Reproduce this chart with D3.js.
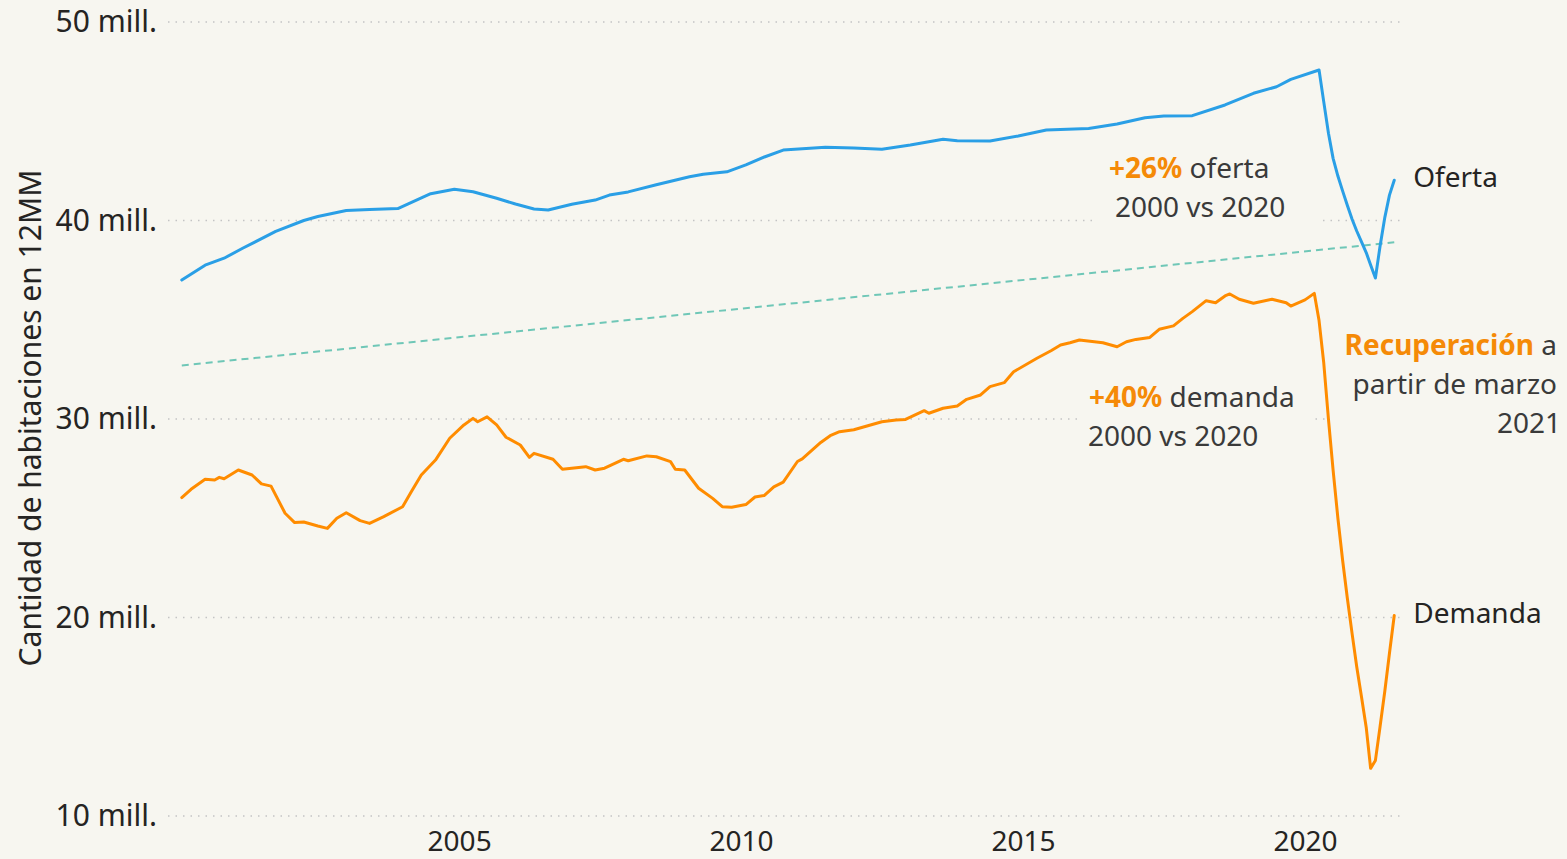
<!doctype html>
<html>

<head>
  <meta charset="utf8"/>
  <style>
    body {
      margin: 0;
      background: #f7f6f0;
    }

    svg {
      display: block;
      font-family: 'Segoe UI', 'Noto Sans', sans-serif;
    }

    .grid line {
      stroke: #c4c4c4;
      stroke-width: 1.5px;
      stroke-dasharray: 1.5, 6;
    }

    .axis text {
      fill: #252423;
    }

    .line {
      fill: none;
      stroke-width: 3px;
      stroke-linejoin: round;
      stroke-linecap: round;
    }

    .note {
      font-size: 28px;
      fill: #3a3a3a;
    }

    .note .hl {
      font-weight: bold;
      fill: #f58a07;
    }
  </style>
</head>

<body>
  <svg width='1567' height='859'></svg>
  <script src="https://d3js.org/d3.v7.min.js"></script>

  <script>

    // habitaciones en 12 meses moviles (millones)
    var ofertaMeses = [
      '2000-01', '2000-06', '2000-10', '2001-02', '2001-09', '2002-03',
      '2002-06', '2002-12', '2003-05', '2003-11', '2004-06', '2004-11',
      '2005-03', '2005-08', '2005-12', '2006-04', '2006-07', '2006-12',
      '2007-05', '2007-08', '2007-12', '2008-06', '2009-01', '2009-04',
      '2009-09', '2010-01', '2010-05', '2010-09', '2011-06', '2011-12',
      '2012-06', '2012-12', '2013-07', '2013-10', '2014-05', '2014-11',
      '2015-05', '2016-02', '2016-08', '2017-02', '2017-06', '2017-12',
      '2018-07', '2019-01', '2019-06', '2019-09', '2020-03', '2020-04',
      '2020-05', '2020-06', '2020-07', '2020-08', '2020-09', '2020-10',
      '2020-11', '2020-12', '2021-01', '2021-02', '2021-03', '2021-04',
      '2021-05', '2021-06', '2021-07'
    ];
    var ofertaValores = [
      37.0, 37.75, 38.1, 38.6, 39.45, 40.0,
      40.2, 40.5, 40.55, 40.6, 41.35, 41.57,
      41.45, 41.12, 40.83, 40.58, 40.53, 40.82,
      41.03, 41.28, 41.44, 41.8, 42.2, 42.33,
      42.45, 42.8, 43.2, 43.55, 43.69, 43.65,
      43.59, 43.8, 44.09, 44.02, 44.0, 44.26,
      44.56, 44.64, 44.86, 45.18, 45.26, 45.28,
      45.82, 46.41, 46.74, 47.11, 47.58, 46.0,
      44.4, 43.13, 42.24, 41.48, 40.77, 40.06,
      39.47, 38.92, 38.37, 37.76, 37.1, 38.7,
      40.16, 41.28, 42.03
    ];

    var demandaMeses = [
      '2000-01', '2000-03', '2000-06', '2000-08', '2000-09', '2000-10',
      '2001-01', '2001-04', '2001-06', '2001-08', '2001-11', '2002-01',
      '2002-03', '2002-06', '2002-08', '2002-10', '2002-12', '2003-03',
      '2003-05', '2003-08', '2003-12', '2004-02', '2004-04', '2004-07',
      '2004-10', '2005-01', '2005-03', '2005-04', '2005-06', '2005-08',
      '2005-10', '2006-01', '2006-03', '2006-04', '2006-08', '2006-10',
      '2007-03', '2007-05', '2007-07', '2007-11', '2007-12', '2008-04',
      '2008-06', '2008-09', '2008-10', '2008-12', '2009-03', '2009-06',
      '2009-08', '2009-10', '2010-01', '2010-03', '2010-05', '2010-07',
      '2010-09', '2010-12', '2011-01', '2011-05', '2011-07', '2011-09',
      '2011-12', '2012-03', '2012-06', '2012-09', '2012-11', '2013-03',
      '2013-04', '2013-07', '2013-10', '2013-12', '2014-03', '2014-05',
      '2014-08', '2014-10', '2015-03', '2015-06', '2015-08', '2015-10',
      '2015-12', '2016-05', '2016-08', '2016-10', '2016-12', '2017-03',
      '2017-05', '2017-08', '2017-10', '2017-12', '2018-03', '2018-05',
      '2018-07', '2018-08', '2018-10', '2019-01', '2019-05', '2019-08',
      '2019-09', '2019-12', '2020-02', '2020-03', '2020-04', '2020-05',
      '2020-06', '2020-07', '2020-08', '2020-09', '2020-10', '2020-11',
      '2020-12', '2021-01', '2021-02', '2021-03', '2021-04', '2021-05',
      '2021-06', '2021-07'
    ];
    var demandaValores = [
      26.04, 26.46, 26.96, 26.93, 27.06, 26.99,
      27.43, 27.18, 26.73, 26.62, 25.25, 24.78,
      24.81, 24.61, 24.49, 25.0, 25.28, 24.88,
      24.74, 25.08, 25.58, 26.39, 27.18, 27.93,
      29.03, 29.7, 30.03, 29.86, 30.11, 29.7,
      29.08, 28.69, 28.07, 28.27, 27.97, 27.47,
      27.6, 27.43, 27.52, 27.97, 27.9, 28.14,
      28.1, 27.85, 27.47, 27.43, 26.51, 26.0,
      25.58, 25.55, 25.69, 26.07, 26.15, 26.58,
      26.82, 27.86, 27.99, 28.82, 29.16, 29.36,
      29.46, 29.66, 29.86, 29.95, 29.98, 30.42,
      30.29, 30.54, 30.66, 30.99, 31.21, 31.63,
      31.83, 32.38, 33.06, 33.44, 33.73, 33.84,
      33.98, 33.84, 33.64, 33.89, 34.01, 34.11,
      34.52, 34.69, 35.07, 35.41, 35.96, 35.86,
      36.2, 36.3, 36.03, 35.83, 36.03, 35.86,
      35.69, 36.0, 36.33, 34.96, 32.86, 29.98,
      27.43, 25.0, 22.86, 20.98, 19.19, 17.52,
      16.0, 14.43, 12.4, 12.8, 14.5, 16.3,
      18.2, 20.1
    ];

    var tendenciaMeses = ['2000-01', '2021-07'];
    var tendenciaValores = [32.7, 38.9];

    var yTicks = [10, 20, 30, 40, 50];
    var xTicks = ['2005', '2010', '2015', '2020'];

    var svg = d3.select('svg'),
        plotLeft = 168, plotRight = 1405, plotTop = 22, plotBottom = 816;

    var parseMonth = d3.timeParse('%Y-%m'),
        parseYear = d3.timeParse('%Y');

    // cada valor se dibuja al final de su mes
    function toPoints(meses, valores) {
      return meses.map(function(m, i) {
        return {date: d3.timeMonth.offset(parseMonth(m), 1), value: valores[i]};
      });
    }

    var oferta = toPoints(ofertaMeses, ofertaValores),
        demanda = toPoints(demandaMeses, demandaValores),
        tendencia = toPoints(tendenciaMeses, tendenciaValores);

    var x = d3.scaleTime()
              .domain([parseYear('2000'), parseYear('2020')])
              .range([177, 1305]);
    var y = d3.scaleLinear()
              .domain([10, 50])
              .range([plotBottom, plotTop]);

    var line = d3.line()
                 .x(function(d) { return x(d.date); })
                 .y(function(d) { return y(d.value); });

    // rejilla punteada
    svg.append('g')
       .attr('class', 'grid')
       .selectAll('line')
       .data(yTicks)
       .enter().append('line')
         .attr('x1', plotLeft)
         .attr('x2', plotRight)
         .attr('y1', function(d) { return y(d); })
         .attr('y2', function(d) { return y(d); });

    var yAxis = svg.append('g')
       .attr('class', 'axis axis--y')
       .attr('transform', 'translate(157,0)')
       .call(d3.axisLeft(y)
               .tickValues(yTicks)
               .tickSize(0)
               .tickPadding(0)
               .tickFormat(function(d) { return d + ' mill.'; }));
    yAxis.attr('font-family', null).attr('font-size', null);
    yAxis.select('.domain').remove();
    yAxis.selectAll('text').style('font-size', '30px');

    var xAxis = svg.append('g')
       .attr('class', 'axis axis--x')
       .attr('transform', 'translate(0,831)')
       .call(d3.axisBottom(x)
               .tickValues(xTicks.map(parseYear))
               .tickSize(0)
               .tickPadding(0)
               .tickFormat(d3.timeFormat('%Y')));
    xAxis.attr('font-family', null).attr('font-size', null);
    xAxis.select('.domain').remove();
    xAxis.selectAll('text').style('font-size', '28px');

    svg.append('text')
       .attr('transform', 'translate(41,418) rotate(-90)')
       .attr('text-anchor', 'middle')
       .style('font-size', '30px')
       .style('fill', '#252423')
       .text('Cantidad de habitaciones en 12MM');

    // notas con caja de fondo que tapa la rejilla
    function note(lines, anchor, py, pad) {
      var g = svg.append('g');
      var box = g.append('rect').attr('fill', '#f7f6f0');
      var t = g.append('text')
               .attr('class', 'note')
               .attr('text-anchor', anchor);
      lines.forEach(function(l, i) {
        var row = t.append('tspan')
                   .attr('x', l.x)
                   .attr('y', py + i * 39);
        l.parts.forEach(function(p) {
          row.append('tspan')
             .attr('class', p.hl ? 'hl' : null)
             .text(p.text);
        });
      });
      var b = t.node().getBBox();
      box.attr('x', b.x - pad[0])
         .attr('y', b.y - 6)
         .attr('width', b.width + pad[0] + pad[1])
         .attr('height', b.height + 12);
    }

    note([
      {x: 1109, parts: [{text: '+26%', hl: true}, {text: ' oferta'}]},
      {x: 1115, parts: [{text: '2000 vs 2020'}]}
    ], 'start', 178, [12, 36]);

    note([
      {x: 1089, parts: [{text: '+40%', hl: true}, {text: ' demanda'}]},
      {x: 1088, parts: [{text: '2000 vs 2020'}]}
    ], 'start', 407, [8, 18]);

    note([
      {x: 1557, parts: [{text: 'Recuperación', hl: true}, {text: ' a'}]},
      {x: 1557, parts: [{text: 'partir de marzo'}]},
      {x: 1561, parts: [{text: '2021'}]}
    ], 'end', 355, [18, 10]);

    // lineas
    svg.append('path')
       .datum(tendencia)
       .attr('class', 'line')
       .attr('d', line)
       .style('stroke', '#6fc7b7')
       .style('stroke-width', '2px')
       .style('stroke-linecap', 'butt')
       .style('stroke-dasharray', '7,5');

    svg.append('path')
       .datum(oferta)
       .attr('class', 'line')
       .attr('d', line)
       .style('stroke', '#2a9fe6');

    svg.append('path')
       .datum(demanda)
       .attr('class', 'line')
       .attr('d', line)
       .style('stroke', '#ff8c00');

    // etiquetas de serie
    [{name: 'Oferta', d: oferta}, {name: 'Demanda', d: demanda}].forEach(function(s) {
      var last = s.d[s.d.length - 1];
      svg.append('text')
         .attr('x', x(last.date) + 19)
         .attr('y', s.name === 'Oferta' ? y(last.value) - 3 : y(last.value) - 2)
         .attr('dy', '0.35em')
         .style('font-size', '28px')
         .style('fill', '#252423')
         .text(s.name);
    });

  </script>
</body>

</html>
